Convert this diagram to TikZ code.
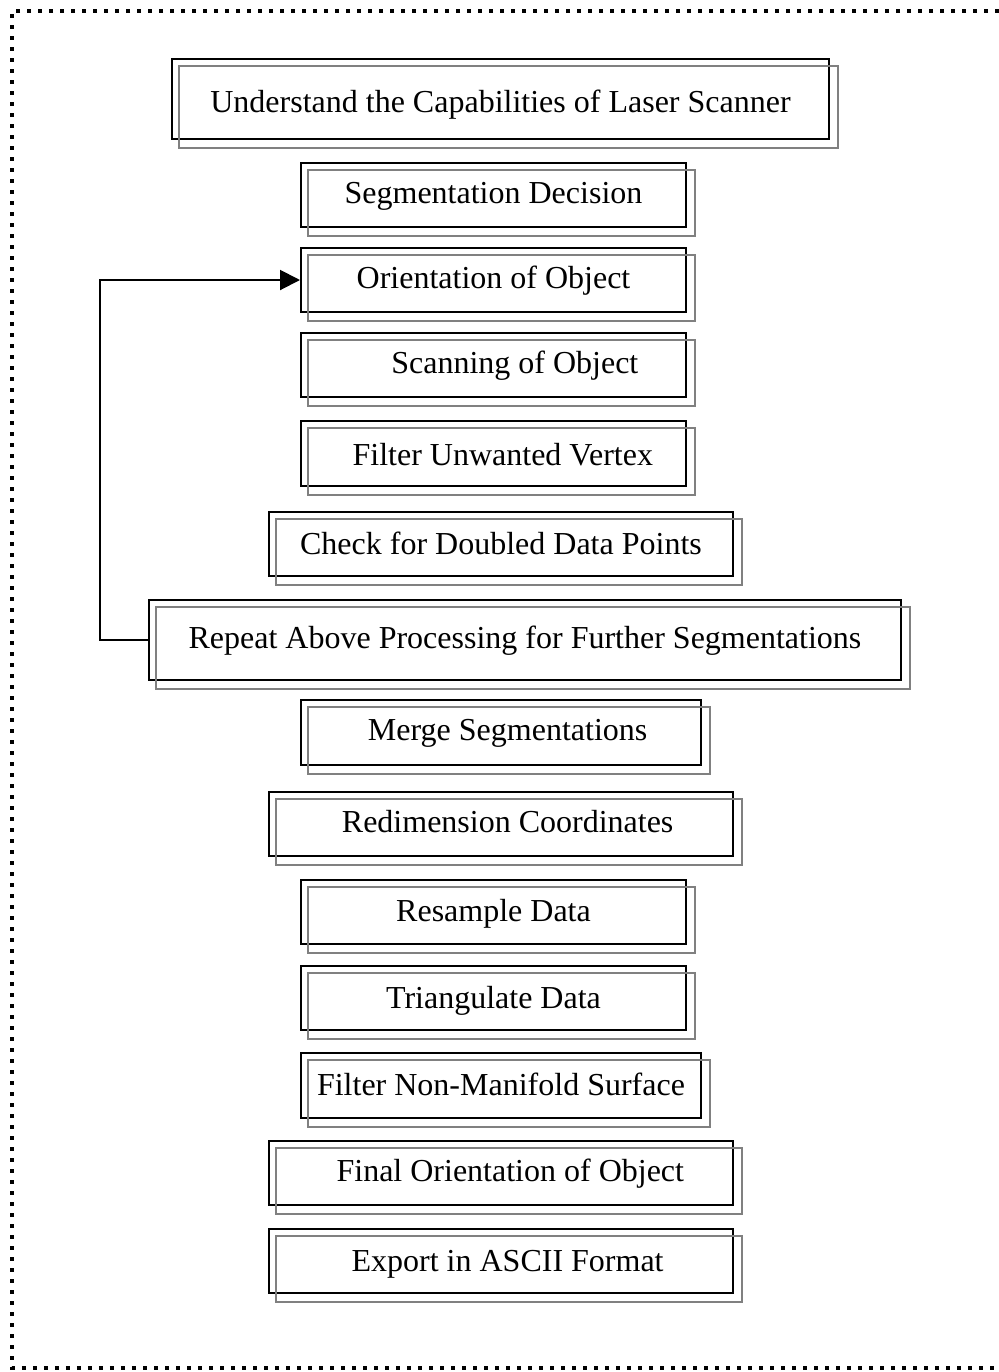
\documentclass[tikz,border=0pt]{standalone}
\usepackage{fontspec}
\setmainfont{Liberation Serif}
\usetikzlibrary{positioning,arrows.meta}

\tikzset{
	stepbox/.style 2 args={draw, line width=1.5pt, inner sep=0pt,
		minimum width=#1*0.75pt, minimum height=#2*0.75pt,
		text height=17pt, text depth=5pt,
		font=\fontsize{24}{28}\selectfont},
	lowtext/.style={text height=#1},
	backline/.style={draw=black!50, line width=1.5pt},
	loopline/.style={line width=1.5pt, -{Triangle[length=15pt, width=15pt]}},
	frame/.style={line width=3pt, dash pattern=on 3pt off 5.25pt}
}

\begin{document}
\begin{tikzpicture}[x=0.75pt, y=-0.75pt]
	\useasboundingbox (0,0) rectangle (999,1372);
	\draw[frame] (1010,11) -- (12,11) -- (12,1368) -- (1010,1368);

	% process steps, top to bottom
	\node[stepbox={657}{80}, lowtext=24.5pt] (und) at (500.5,99) {Understand the Capabilities of Laser Scanner};
	\node[stepbox={385}{64}] (seg) at (493.5,195) {Segmentation Decision};
	\node[stepbox={385}{64}] (orient) at (493.5,280) {Orientation of Object};
	\node[stepbox={385}{64}] (scan) at (493.5,365) {\hspace*{32pt}Scanning of Object};
	\node[stepbox={385}{65}, lowtext=23pt] (filt) at (493.5,453.5) {\hspace*{14pt}Filter Unwanted Vertex};
	\node[stepbox={464}{64}, lowtext=21pt] (check) at (501,544) {Check for Doubled Data Points};
	\node[stepbox={752}{80}] (rep) at (525,640) {Repeat Above Processing for Further Segmentations};
	\node[stepbox={400}{65}] (merge) at (501,732.5) {\hspace*{10pt}Merge Segmentations};
	\node[stepbox={464}{64}] (redim) at (501,824) {\hspace*{10pt}Redimension Coordinates};
	\node[stepbox={385}{64}, lowtext=19pt] (resamp) at (493.5,912) {Resample Data};
	\node[stepbox={385}{64}, lowtext=20pt] (tri) at (493.5,998) {Triangulate Data};
	\node[stepbox={400}{65}, lowtext=20pt] (nonman) at (501,1085.5) {Filter Non-Manifold Surface};
	\node[stepbox={464}{64}] (final) at (501,1173) {\hspace*{14pt}Final Orientation of Object};
	\node[stepbox={464}{64}, lowtext=20pt] (export) at (501,1261) {\hspace*{10pt}Export in ASCII Format};

	% grey offset frames behind each box
	\foreach \n in {und,seg,orient,scan,filt,check,rep,merge,redim,resamp,tri,nonman,final,export}
		\draw[backline] ([shift={(8,8)}]\n.north west) rectangle ([shift={(8,8)}]\n.south east);

	% feedback loop
	\draw[loopline] (rep.west) -- ++(-48,0) |- (orient.west);

\end{tikzpicture}
\end{document}
